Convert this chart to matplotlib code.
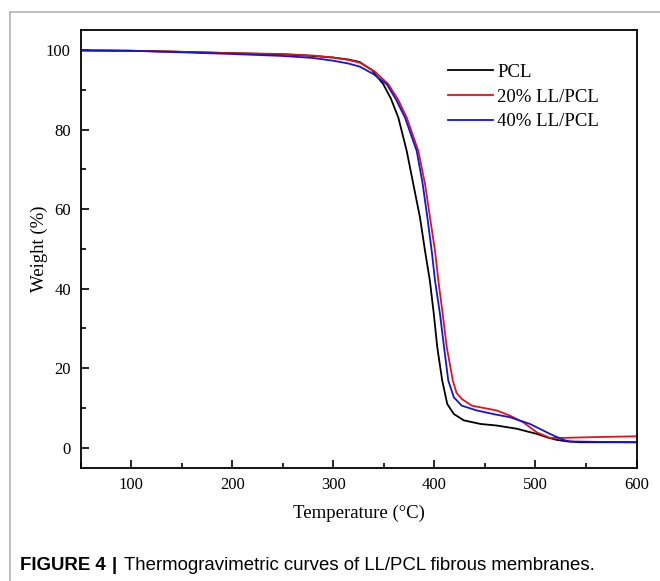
import matplotlib
matplotlib.use("Agg")
import matplotlib.pyplot as plt
from matplotlib.lines import Line2D
from matplotlib.ticker import MultipleLocator

# values
pcl_t = [50, 100, 140, 200, 250, 280, 300, 315, 326, 338, 349.5, 357, 364.4, 372.7, 379.2,
         385.8, 390.8, 395.6, 399.5, 402.9, 407.8, 412.8, 419.3, 429.2, 445.6, 461.7, 481.5,
         501.3, 512, 521, 532, 544, 600]
pcl_w = [99.9, 99.8, 99.6, 99.2, 98.9, 98.5, 98.1, 97.6, 97.0, 95.0, 91.4, 87.8, 83.0, 74.6, 66.3,
         57.9, 49.5, 42.0, 33.6, 25.3, 16.9, 11.0, 8.5, 6.9, 6.0, 5.6, 4.8,
         3.5, 2.6, 2.0, 1.6, 1.4, 1.4]

ll20_t = [50, 100, 140, 200, 250, 280, 300, 315, 326.5, 341, 354.5, 364, 372.7, 384.2, 390.8,
          395.7, 400.7, 404, 408.3, 412.3, 418.3, 422, 427.1, 437, 445.2, 461.7, 474.8, 488,
          501.3, 514.4, 528, 560, 600]
ll20_w = [99.9, 99.8, 99.6, 99.2, 99.0, 98.6, 98.1, 97.5, 96.8, 94.6, 91.4, 87.6, 83.0, 74.6, 66.3,
          57.9, 49.5, 42.0, 33.6, 25.3, 16.9, 13.8, 12.3, 10.6, 10.2, 9.4, 8.1, 6.4,
          3.9, 2.5, 2.5, 2.7, 2.9]

ll40_t = [50, 100, 140, 200, 250, 280, 300, 315, 326.5, 340, 352.9, 362, 371, 382.6, 388.5,
          393.1, 397.4, 400.7, 405.6, 409.6, 413.8, 419.3, 427.1, 441.9, 460, 474.8, 494.6,
          514.4, 527.6, 534, 560, 600]
ll40_w = [99.9, 99.8, 99.5, 99.0, 98.5, 98.0, 97.3, 96.6, 95.8, 93.9, 91.4, 87.6, 83.0, 74.6, 66.3,
          57.9, 49.5, 42.0, 33.6, 25.3, 16.9, 12.7, 10.6, 9.4, 8.4, 7.7, 6.0,
          3.5, 2.0, 1.6, 1.5, 1.4]

labels = ["PCL", "20% LL/PCL", "40% LL/PCL"]
colors = ["#000000", "#e0141c", "#1414d2"]

serif = ["Liberation Serif", "DejaVu Serif"]

fig = plt.figure(figsize=(6.6, 5.81), dpi=100)
ax = fig.add_axes([0.122, 0.195, 0.8424, 0.7532])

for t, w, lab, c in zip([pcl_t, ll20_t, ll40_t], [pcl_w, ll20_w, ll40_w], labels, colors):
    ax.plot(t, w, color=c, lw=1.3, label=lab)

ax.set_xlim(50, 600)
ax.set_ylim(-5, 105)
ax.xaxis.set_major_locator(MultipleLocator(100))
ax.xaxis.set_minor_locator(MultipleLocator(50))
ax.yaxis.set_major_locator(MultipleLocator(20))
ax.yaxis.set_minor_locator(MultipleLocator(10))
ax.tick_params(which="both", direction="in", top=False, right=False, width=1.2)
ax.tick_params(which="major", length=6, labelsize=12, pad=7)
ax.tick_params(which="minor", length=3.5)
for lbl in ax.get_xticklabels() + ax.get_yticklabels():
    lbl.set_family(serif)
for s in ax.spines.values():
    s.set_linewidth(1.3)

ax.set_xlabel("Temperature (°C)", family=serif, fontsize=13.5, labelpad=8)
ax.set_ylabel("Weight (%)", family=serif, fontsize=13.5)
ax.yaxis.set_label_coords(-0.058, 0.5)

ax.legend(loc="upper right", bbox_to_anchor=(0.963, 0.962), frameon=False,
          prop={"family": serif, "size": 13.5}, handlelength=2.4,
          handletextpad=0.2, labelspacing=0.41)

# gray frame of the caption box (left and top edges)
fig.add_artist(Line2D([9.5 / 660, 9.5 / 660], [0, 1 - 12 / 581], color="#b5b5b5", lw=1.2))
fig.add_artist(Line2D([9.5 / 660, 1], [1 - 12 / 581, 1 - 12 / 581], color="#b5b5b5", lw=1.2))

# caption: bold figure number, bar, then plain text placed after it
cap_y = 1 - 566 / 581
renderer = fig.canvas.get_renderer()
t1 = fig.text(20 / 660, cap_y, "FIGURE 4", family="Liberation Sans", fontweight="bold",
              fontsize=13.4, va="center", ha="left")
x_end = t1.get_window_extent(renderer).x1 / fig.bbox.width
t2 = fig.text(x_end + 6 / 660, cap_y, "|", family="Liberation Sans", fontweight="bold",
              fontsize=13.4, va="center", ha="left")
x_end = t2.get_window_extent(renderer).x1 / fig.bbox.width
fig.text(x_end + 7 / 660, cap_y, "Thermogravimetric curves of LL/PCL fibrous membranes.",
         family="Liberation Sans", fontsize=13.4, va="center", ha="left")

fig.savefig("out.png", dpi=100)
plt.close(fig)
